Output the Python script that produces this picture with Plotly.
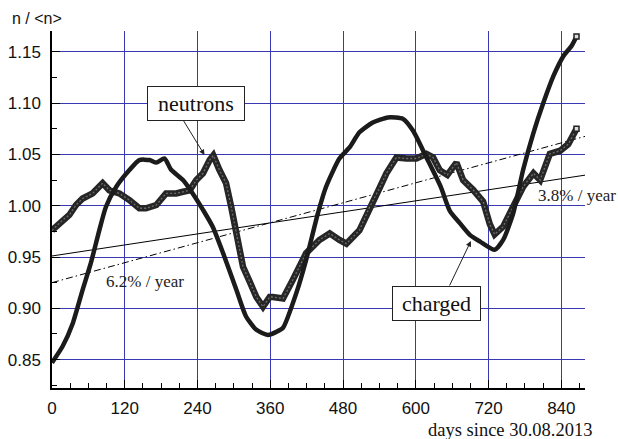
import plotly.graph_objects as go

# ---- data ----
charged_days = [0, 17.5, 34, 50.5, 64, 78, 89, 106, 128, 144, 161, 172, 185.5, 196.5, 216, 232,
                249, 265, 282, 304, 320, 337, 356, 370, 381, 403, 419, 438.5, 452, 474, 491, 507,
                529, 554, 579, 595.5, 617.5, 641, 656, 672.5, 689, 706, 730, 744, 760.6, 777,
                794, 810.5, 827, 843.5, 857, 865]
charged_vals = [0.847, 0.863, 0.885, 0.918, 0.944, 0.976, 0.999, 1.0185, 1.035, 1.0445, 1.0445,
                1.042, 1.046, 1.035, 1.025, 1.012, 0.996, 0.9795, 0.954, 0.918, 0.892, 0.879,
                0.874, 0.877, 0.881, 0.915, 0.947, 0.9926, 1.0185, 1.046, 1.057, 1.0716, 1.081,
                1.086, 1.0846, 1.073, 1.047, 1.0185, 0.995, 0.983, 0.9716, 0.965, 0.957, 0.9666,
                0.9926, 1.035, 1.071, 1.1005, 1.1265, 1.146, 1.156, 1.165]

neutron_days = [0, 17.5, 28.6, 39.6, 50.5, 67, 83.5, 94.6, 111, 127.6, 144, 155, 172, 188, 205,
                216, 227, 238, 249, 260, 266, 276, 287, 295.5, 304, 315, 326, 337, 348, 359, 364,
                381, 397, 419, 441, 458, 474, 485.5, 507, 524, 540, 551.5, 568, 584.6, 601,
                617.5, 628.5, 639.5, 652, 667, 678, 694.5, 711, 722, 730, 744, 760.6, 777, 794,
                805, 821, 838, 851.5, 865]
neutron_vals = [0.976, 0.986, 0.991, 1.0007, 1.007, 1.012, 1.022, 1.015, 1.012, 1.0055, 0.9975,
                0.9975, 1.0007, 1.012, 1.012, 1.0136, 1.015, 1.025, 1.0316, 1.0445, 1.049, 1.035,
                1.022, 0.999, 0.973, 0.9405, 0.926, 0.911, 0.9015, 0.911, 0.911, 0.9095, 0.9276,
                0.9536, 0.9666, 0.973, 0.9666, 0.963, 0.976, 0.999, 1.017, 1.0316, 1.047, 1.046,
                1.046, 1.0505, 1.047, 1.0345, 1.030, 1.042, 1.025, 1.0155, 1.004, 0.982, 0.972,
                0.9796, 0.999, 1.0185, 1.0316, 1.025, 1.0505, 1.0536, 1.060, 1.075]

trend38_days = [0, 915]
trend38_vals = [0.951, 1.033]
trend62_days = [0, 931]
trend62_vals = [0.925, 1.076]

x_ticks = [0, 120, 240, 360, 480, 600, 720, 840]
y_ticks = [0.85, 0.90, 0.95, 1.00, 1.05, 1.10, 1.15]

X_RANGE = [0, 879]
Y_RANGE = [0.8223, 1.1703]

GRID = "#3838b0"
SANS = "Liberation Sans"
SERIF = "Liberation Serif"

fig = go.Figure()

# trend lines
fig.add_trace(go.Scatter(x=trend38_days, y=trend38_vals, mode="lines",
                         line=dict(color="black", width=1), hoverinfo="skip"))
fig.add_trace(go.Scatter(x=trend62_days, y=trend62_vals, mode="lines",
                         line=dict(color="black", width=1, dash="7px,3px,1.5px,3px"),
                         hoverinfo="skip"))

# neutrons: thick dark line with a faint speckled core
fig.add_trace(go.Scatter(x=neutron_days, y=neutron_vals, mode="lines",
                         line=dict(color="#262626", width=6.5), hoverinfo="skip"))
fig.add_trace(go.Scatter(x=neutron_days, y=neutron_vals, mode="lines",
                         line=dict(color="#6e6e6e", width=1.3, dash="2px,2px"), hoverinfo="skip"))

# charged: thick black line
fig.add_trace(go.Scatter(x=charged_days, y=charged_vals, mode="lines",
                         line=dict(color="#1b1b1b", width=4.5, shape="spline", smoothing=0.6),
                         hoverinfo="skip"))

# end markers
fig.add_trace(go.Scatter(x=[charged_days[-1], neutron_days[-1]],
                         y=[charged_vals[-1], neutron_vals[-1]], mode="markers",
                         marker=dict(symbol="square", size=5, color="#dddddd",
                                     line=dict(color="#222", width=1.5)),
                         hoverinfo="skip"))

axis_common = dict(
    showline=True, linecolor="black", linewidth=1.5,
    ticks="inside", ticklen=8, tickwidth=1.2, tickcolor="black",
    showgrid=True, gridcolor=GRID, gridwidth=1.2,
    zeroline=False, mirror=False, automargin=False,
    tickfont=dict(family=SANS, size=17, color="#111"),
)

fig.update_xaxes(range=X_RANGE, tickmode="array", tickvals=x_ticks,
                 ticktext=[str(v) for v in x_ticks], ticklabelstandoff=4,
                 minor=dict(dtick=30, tick0=0, ticks="inside", ticklen=5, tickwidth=1.2,
                            tickcolor="black", showgrid=False),
                 **axis_common)
fig.update_yaxes(range=Y_RANGE, tickmode="array", tickvals=y_ticks,
                 ticktext=[f"{v:.2f}" for v in y_ticks], ticklabelstandoff=6,
                 minor=dict(dtick=0.025, tick0=0.825, ticks="inside", ticklen=5, tickwidth=1.2,
                            tickcolor="black", showgrid=False),
                 **axis_common)

annotations = [
    # axis titles
    dict(text="n / &lt;n&gt;", xref="paper", yref="paper", x=-0.079, y=1.036,
         xanchor="left", yanchor="middle", showarrow=False,
         font=dict(family=SANS, size=16, color="#111")),
    dict(text="days since 30.08.2013", xref="paper", yref="paper", x=0.859, y=-0.118,
         xanchor="center", yanchor="middle", showarrow=False,
         font=dict(family=SERIF, size=18.5, color="#111")),
    # trend labels
    dict(text="6.2% / year", x=154, y=0.9266, showarrow=False,
         font=dict(family=SERIF, size=17, color="#222")),
    dict(text="3.8% / year", x=866.5, y=1.0104, showarrow=False,
         font=dict(family=SERIF, size=17, color="#222")),
    # labelled boxes
    dict(text="neutrons", x=238, y=1.0995, showarrow=False, bgcolor="white",
         bordercolor="#222", borderwidth=1, borderpad=2, width=92, height=29,
         font=dict(family=SERIF, size=22, color="#111")),
    dict(text="charged", x=634, y=0.9047, showarrow=False, bgcolor="white",
         bordercolor="#222", borderwidth=1, borderpad=2, width=83, height=29,
         font=dict(family=SERIF, size=22, color="#111")),
    # arrows
    dict(text="", x=251.5, y=1.0494, ax=-22, ay=-36, showarrow=True, arrowhead=2,
         arrowsize=1.1, arrowwidth=1, arrowcolor="#222"),
    dict(text="", x=690.8, y=0.9656, ax=-22, ay=46, showarrow=True, arrowhead=2,
         arrowsize=1.1, arrowwidth=1, arrowcolor="#222"),
]

fig.update_layout(
    width=618, height=439,
    margin=dict(l=52, r=33, t=31, b=51, pad=0, autoexpand=False),
    plot_bgcolor="white", paper_bgcolor="white",
    showlegend=False,
    annotations=annotations,
)

# remove the default page margin so the 618x439 figure fills the window exactly
fig.write_html("out.html",
               config={"displayModeBar": False},
               post_script="document.body.style.margin='0';document.body.style.overflow='hidden';")
